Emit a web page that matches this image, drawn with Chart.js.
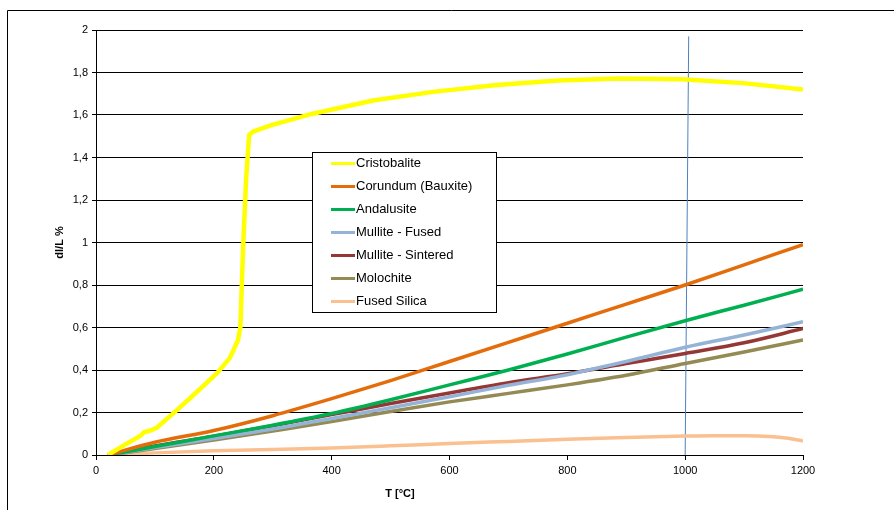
<!DOCTYPE html>
<html>
<head>
<meta charset="utf-8">
<script src="https://cdn.jsdelivr.net/npm/chart.js@4/dist/chart.umd.min.js"></script>
<style>
    html, body { margin: 0; padding: 0; background: #fff; }
    #wrap { width: 894px; height: 510px; }
</style>
</head>
<body>
<div id="wrap"><canvas id="chart" width="894" height="510"></canvas></div>
<script>
// Temperatures (°C) shared by most series
const temps = [20, 100, 200, 300, 400, 500, 600, 700, 800, 900, 1000, 1100, 1200];

// Cristobalite has its own, denser sampling around the inversion
const cristobaliteT = [20, 50, 75, 82, 90, 103, 131, 160, 205, 227, 241, 245, 250, 255, 260, 267, 295, 366, 470, 575, 680, 784, 889, 994, 1098, 1200];
const cristobalite = [0, 0.05, 0.09, 0.108, 0.113, 0.128, 0.196, 0.268, 0.384, 0.456, 0.54, 0.6, 1.0, 1.31, 1.506, 1.522, 1.55, 1.605, 1.668, 1.71, 1.741, 1.762, 1.772, 1.768, 1.75, 1.72];

const corundum = [0, 0.06, 0.115, 0.185, 0.265, 0.35, 0.44, 0.53, 0.62, 0.71, 0.8, 0.895, 0.99];
const andalusite = [0, 0.04, 0.09, 0.14, 0.195, 0.26, 0.33, 0.4, 0.475, 0.555, 0.632, 0.705, 0.78];
const mulliteFused = [0, 0.035, 0.078, 0.122, 0.172, 0.222, 0.274, 0.328, 0.378, 0.44, 0.507, 0.565, 0.627];
const mulliteSintered = [0, 0.042, 0.088, 0.138, 0.19, 0.242, 0.292, 0.34, 0.382, 0.43, 0.478, 0.528, 0.595];
const molochite = [0, 0.03, 0.07, 0.113, 0.157, 0.205, 0.25, 0.29, 0.33, 0.375, 0.431, 0.485, 0.541];

const silicaT = [20, 100, 200, 300, 400, 500, 600, 700, 800, 900, 1000, 1050, 1100, 1150, 1175, 1200];
const fusedSilica = [0, 0.01, 0.02, 0.026, 0.033, 0.043, 0.054, 0.064, 0.074, 0.082, 0.089, 0.091, 0.091, 0.086, 0.079, 0.066];

// The thin marker line near 1000 °C
const markerT = [1000, 1006];
const markerV = [0, 1.97];

const toPoints = (xs, ys) => xs.map((x, i) => ({ x, y: ys[i] }));

const FONT = '"Liberation Sans", Arial, sans-serif';

const series = [
    { label: 'Cristobalite', xs: cristobaliteT, ys: cristobalite, color: '#FFFF00', width: 4.5, tension: 0 },
    { label: 'Corundum (Bauxite)', xs: temps, ys: corundum, color: '#E46C0A', width: 3.5 },
    { label: 'Andalusite', xs: temps, ys: andalusite, color: '#00B050', width: 3.5 },
    { label: 'Mullite - Fused', xs: temps, ys: mulliteFused, color: '#95B3D7', width: 3.5 },
    { label: 'Mullite - Sintered', xs: temps, ys: mulliteSintered, color: '#953735', width: 3.5 },
    { label: 'Molochite', xs: temps, ys: molochite, color: '#948A54', width: 3.5 },
    { label: 'Fused Silica', xs: silicaT, ys: fusedSilica, color: '#FAC090', width: 3.5 },
];

const datasets = series.map((s) => ({
    label: s.label,
    data: toPoints(s.xs, s.ys),
    borderColor: s.color,
    backgroundColor: s.color,
    borderWidth: s.width,
    pointRadius: 0,
    fill: false,
    tension: s.tension === 0 ? 0 : 0.4,
    cubicInterpolationMode: s.tension === 0 ? 'default' : 'monotone',
    inLegend: true,
}));

datasets.push({
    label: 'marker',
    data: toPoints(markerT, markerV),
    borderColor: '#4F81BD',
    borderWidth: 1,
    pointRadius: 0,
    fill: false,
    tension: 0,
    inLegend: false,
});

// Outer frame, x-axis title and the boxed legend inside the plot
const framePlugin = {
    id: 'frame',
    beforeDraw: (chart) => {
        const ctx = chart.ctx;
        ctx.save();
        ctx.fillStyle = '#fff';
        ctx.fillRect(0, 0, chart.width, chart.height);
        ctx.strokeStyle = '#000';
        ctx.lineWidth = 1;
        ctx.beginPath();
        ctx.moveTo(7.5, chart.height + 2);
        ctx.lineTo(7.5, 10.5);
        ctx.lineTo(chart.width + 2, 10.5);
        ctx.stroke();
        ctx.restore();
    },
    afterDatasetsDraw: (chart) => {
        const ctx = chart.ctx;
        const area = chart.chartArea;

        // x-axis title
        ctx.save();
        ctx.fillStyle = '#000';
        ctx.font = 'bold 11px ' + FONT;
        ctx.textAlign = 'center';
        ctx.textBaseline = 'middle';
        ctx.fillText('T [°C]', area.left + 304, 494);

        // legend
        const boxX = area.left + 216;
        const boxY = area.top + 122;
        const boxW = 184;
        const boxH = 160;
        ctx.fillStyle = '#fff';
        ctx.fillRect(boxX, boxY, boxW, boxH);
        ctx.strokeStyle = '#000';
        ctx.lineWidth = 1;
        ctx.strokeRect(boxX + 0.5, boxY + 0.5, boxW, boxH);

        ctx.font = '13px ' + FONT;
        ctx.textAlign = 'left';
        let row = 0;
        chart.data.datasets.forEach((ds) => {
            if (!ds.inLegend) {
                return;
            }
            const y = boxY + 11.5 + row * 23;
            ctx.strokeStyle = ds.borderColor;
            ctx.lineWidth = 3;
            ctx.beginPath();
            ctx.moveTo(boxX + 19, y);
            ctx.lineTo(boxX + 43, y);
            ctx.stroke();
            ctx.fillStyle = '#000';
            ctx.fillText(ds.label, boxX + 44, y);
            row++;
        });
        ctx.restore();
    },
};

const ctx = document.getElementById('chart').getContext('2d');
new Chart(ctx, {
    type: 'line',
    data: { datasets },
    plugins: [framePlugin],
    options: {
        responsive: false,
        animation: false,
        layout: {
            padding: { left: 0, right: 91, top: 30, bottom: 0 },
        },
        plugins: {
            legend: { display: false },
            tooltip: { enabled: false },
        },
        scales: {
            x: {
                type: 'linear',
                min: 0,
                max: 1200,
                afterFit: (scale) => { scale.height = 55; },
                ticks: {
                    stepSize: 200,
                    color: '#000',
                    font: { family: FONT, size: 11 },
                    padding: 4,
                    maxRotation: 0,
                    callback: (value) => String(value),
                },
                grid: {
                    drawOnChartArea: false,
                    drawTicks: true,
                    tickLength: 5,
                    color: '#000',
                },
                border: { display: true, color: '#000', width: 1 },
            },
            y: {
                min: 0,
                max: 2,
                afterFit: (scale) => { scale.width = 96; },
                ticks: {
                    stepSize: 0.2,
                    color: '#000',
                    font: { family: FONT, size: 11 },
                    padding: 4,
                    callback: (value) => String(Math.round(value * 10) / 10).replace('.', ','),
                },
                grid: {
                    color: '#000',
                    tickLength: 4,
                },
                border: { display: true, color: '#000', width: 1 },
                title: {
                    display: true,
                    text: 'dl/L %',
                    color: '#000',
                    font: { family: FONT, size: 11, weight: 'bold' },
                    padding: { top: 53, bottom: 0 },
                },
            },
        },
    },
});
</script>
</body>
</html>
